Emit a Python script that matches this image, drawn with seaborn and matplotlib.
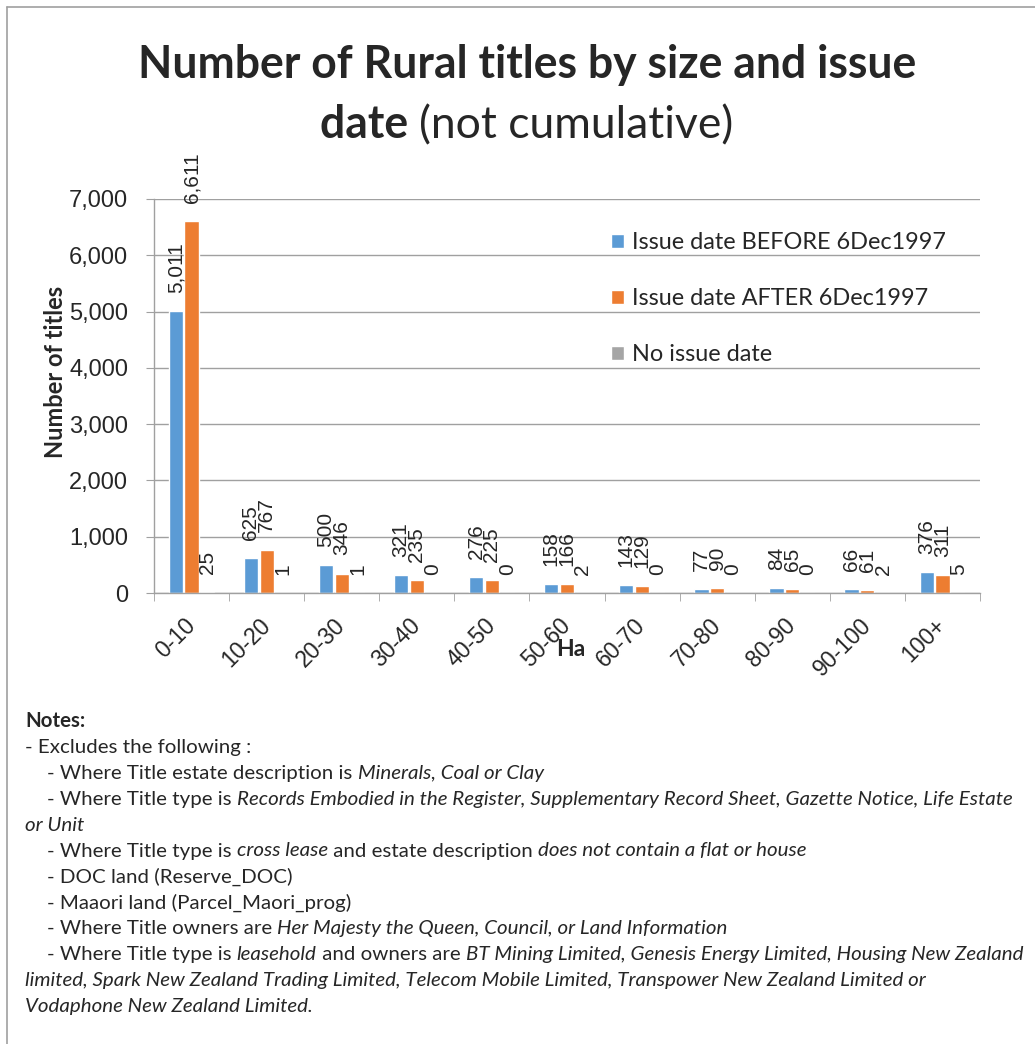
import matplotlib
matplotlib.use("Agg")
import matplotlib.pyplot as plt
from matplotlib.patches import Patch
from matplotlib.lines import Line2D
import numpy as np
import pandas as pd
import seaborn as sns

# ▒ data
categories = ["0-10", "10-20", "20-30", "30-40", "40-50", "50-60",
              "60-70", "70-80", "80-90", "90-100", "100+"]
before_1997 = [5011, 625, 500, 321, 276, 158, 143, 77, 84, 66, 376]
after_1997 = [6611, 767, 346, 235, 225, 166, 129, 90, 65, 61, 311]
no_date = [25, 1, 1, 0, 0, 2, 0, 0, 0, 2, 5]
series_names = ["Issue date BEFORE 6Dec1997", "Issue date AFTER 6Dec1997", "No issue date"]
colors = ["#5B9BD5", "#ED7D31", "#A5A5A5"]
y_ticks = [0, 1000, 2000, 3000, 4000, 5000, 6000, 7000]

notes = [
    (25, [("Notes:", "bold")]),
    (25, [("- Excludes the following :", "normal")]),
    (47, [("- Where Title estate description is ", "normal"), ("Minerals, Coal or Clay", "italic")]),
    (47, [("- Where Title type is ", "normal"),
          ("Records Embodied in the Register, Supplementary Record Sheet, Gazette Notice, Life Estate", "italic")]),
    (25, [("or Unit", "italic")]),
    (47, [("- Where Title type is ", "normal"), ("cross lease", "italic"),
          (" and estate description ", "normal"), ("does not contain a flat or house", "italic")]),
    (47, [("- DOC land (Reserve_DOC)", "normal")]),
    (47, [("- Maaori land (Parcel_Maori_prog)", "normal")]),
    (47, [("- Where Title owners are ", "normal"),
          ("Her Majesty the Queen, Council, or Land Information", "italic")]),
    (47, [("- Where Title type is ", "normal"), ("leasehold", "italic"), (" and owners are ", "normal"),
          ("BT Mining Limited, Genesis Energy Limited, Housing New Zealand", "italic")]),
    (25, [("limited, Spark New Zealand Trading Limited, Telecom Mobile Limited, Transpower New Zealand Limited or", "italic")]),
    (25, [("Vodaphone New Zealand Limited.", "italic")]),
]

series = [before_1997, after_1997, no_date]
df = pd.DataFrame({
    "Ha": categories * 3,
    "titles": before_1997 + after_1997 + no_date,
    "series": [n for n in series_names for _ in categories],
})

sns.set_style("white")
plt.rcParams["font.family"] = ["Liberation Sans", "DejaVu Sans"]
grey = "#A0A0A0"

W, H = 1035, 1044
fig = plt.figure(figsize=(W / 100, H / 100), dpi=100)
ax = fig.add_axes([154 / W, 1 - 593 / H, (980 - 154) / W, (593 - 199) / H])

sns.barplot(data=df, x="Ha", y="titles", hue="series", palette=colors, saturation=1,
            width=0.63, gap=0.1, errorbar=None, legend=False, ax=ax)

# ▒ data labels
for cont, vals in zip(ax.containers, series):
    ax.bar_label(cont, labels=[f"{v:,}" for v in vals], padding=13, rotation=90,
                 fontsize=15, family="Liberation Sans")

ax.set_xlim(-0.5, 10.5)
ax.set_ylim(0, 7000)
ax.set_yticks(y_ticks)
ax.set_yticklabels([f"{v:,}" for v in y_ticks])
ax.yaxis.grid(True, color=grey, lw=1)
ax.set_axisbelow(True)
for s in ["top", "right"]:
    ax.spines[s].set_visible(False)
for s in ["left", "bottom"]:
    ax.spines[s].set_color(grey)
    ax.spines[s].set_linewidth(1)

ax.tick_params(axis="y", left=True, length=6, color=grey, pad=12.5, labelsize=17)
ax.set_xticks(np.arange(-0.5, 11, 1), minor=True)
ax.tick_params(axis="x", which="major", length=0, pad=21, labelsize=16.5)
ax.tick_params(axis="x", which="minor", bottom=True, length=6, color=grey)
for lbl in ax.get_xticklabels():
    lbl.set_rotation(45)
    lbl.set_ha("right")
    lbl.set_va("center")
    lbl.set_rotation_mode("anchor")

ax.set_ylabel("Number of titles", fontsize=17, fontweight="bold", family="Lato")
ax.yaxis.set_label_coords((56 - 154) / 826, 0.56)
ax.yaxis.label.set_va("center")
ax.set_xlabel("Ha", fontsize=16.5, fontweight="bold", family="Lato")
ax.xaxis.set_label_coords((571 - 154) / 826, (593 - 650) / 394)
ax.xaxis.label.set_va("center")

handles = [Patch(facecolor=c) for c in colors]
ax.legend(handles, series_names, loc="upper left", bbox_to_anchor=(611 / W, 1 - 232 / H),
          bbox_transform=fig.transFigure, frameon=False, prop={"family": "Lato", "size": 16.9},
          handlelength=0.55, handleheight=0.55, handletextpad=0.35, labelspacing=1.5,
          borderpad=0, borderaxespad=0)

# ▒ rich text helpers (measured with the renderer)
renderer = fig.canvas.get_renderer()


def seg_width(s, **kw):
    t = fig.text(0, 0, "|" + s + "|", **kw)
    w1 = t.get_window_extent(renderer).width
    t.remove()
    t = fig.text(0, 0, "||", **kw)
    w2 = t.get_window_extent(renderer).width
    t.remove()
    return w1 - w2


def style_kw(style, size):
    kw = {"fontsize": size, "family": "Lato"}
    if style == "bold":
        kw["fontweight"] = "bold"
    elif style == "italic":
        kw["style"] = "italic"
    return kw


def line_width(segs, size):
    return sum(seg_width(t, **style_kw(st, size)) for t, st in segs)


def draw_line(x, y, segs, size):
    for t, st in segs:
        kw = style_kw(st, size)
        fig.text(x / W, 1 - y / H, t, ha="left", va="baseline", **kw)
        x += seg_width(t, **kw)


# ▒ title
title1 = [("Number of Rural titles by size and issue", "bold")]
title2 = [("date ", "bold"), ("(not cumulative)", "normal")]
tsize = 26 * 779 / line_width(title1, 26)
cx = 527
draw_line(cx - line_width(title1, tsize) / 2, 78, title1, tsize)
draw_line(cx - line_width(title2, tsize) / 2, 138, title2, tsize)

# ▒ notes
nsize = 13 * 973 / line_width(notes[9][1], 13)
for i, (x0, segs) in enumerate(notes):
    draw_line(x0, 727 + 25.9 * i, segs, nsize)

# ▒ chart frame (left and top edges)
fig.add_artist(Line2D([7 / W, 7 / W], [0, 1 - 7 / H], transform=fig.transFigure, color=grey, lw=1.2))
fig.add_artist(Line2D([7 / W, 1], [1 - 7 / H, 1 - 7 / H], transform=fig.transFigure, color=grey, lw=1.2))

fig.savefig("out.png", dpi=100)
